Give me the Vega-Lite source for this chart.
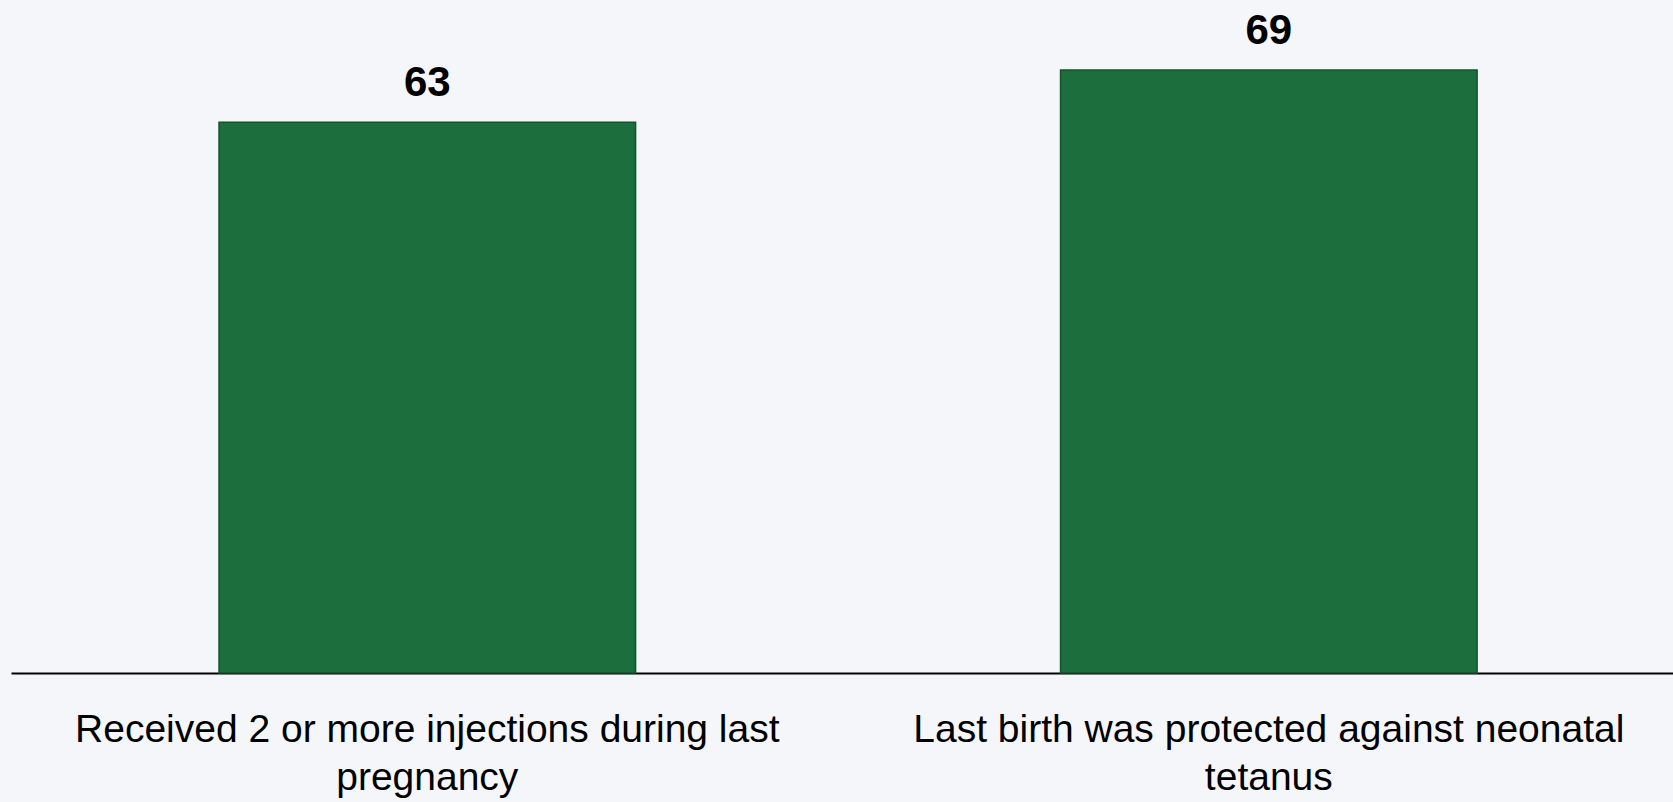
{
  "$schema": "https://vega.github.io/schema/vega-lite/v6.json",
  "width": 1662,
  "height": 673,
  "autosize": {"type": "none"},
  "padding": {"left": 11, "top": 0, "right": 0, "bottom": 129},
  "background": "#f5f6fa",
  "config": {"view": {"stroke": null}},
  "data": {"values": [
    {"category": "Received 2 or more injections during last pregnancy", "value": 63},
    {"category": "Last birth was protected against neonatal tetanus", "value": 69}
  ]},
  "encoding": {
    "x": {"field": "category", "type": "nominal", "sort": null,
      "scale": {"paddingInner": 0.505, "paddingOuter": 0.24, "align": 0.515},
      "axis": {"title": null, "labelAngle": 0, "domainColor": "#000000", "domainWidth": 2, "ticks": false,
        "labelFont": "Liberation Sans", "labelFontSize": 39, "labelColor": "#000000", "labelPadding": 37,
        "labelLineHeight": 48, "labelLimit": 0,
        "labelExpr": "datum.value == 'Received 2 or more injections during last pregnancy' ? ['Received 2 or more injections during last', 'pregnancy'] : ['Last birth was protected against neonatal', 'tetanus']"}},
    "y": {"field": "value", "type": "quantitative", "scale": {"domain": [0, 77], "nice": false}, "axis": null}
  },
  "layer": [
    {"mark": {"type": "bar", "color": "#1c6e3c", "stroke": "#14532c", "strokeWidth": 1.5}},
    {"mark": {"type": "text", "dy": -26, "baseline": "alphabetic", "font": "Liberation Sans", "fontWeight": "bold", "fontSize": 42, "color": "#000000"},
     "encoding": {"text": {"field": "value", "type": "quantitative"}}}
  ]
}
